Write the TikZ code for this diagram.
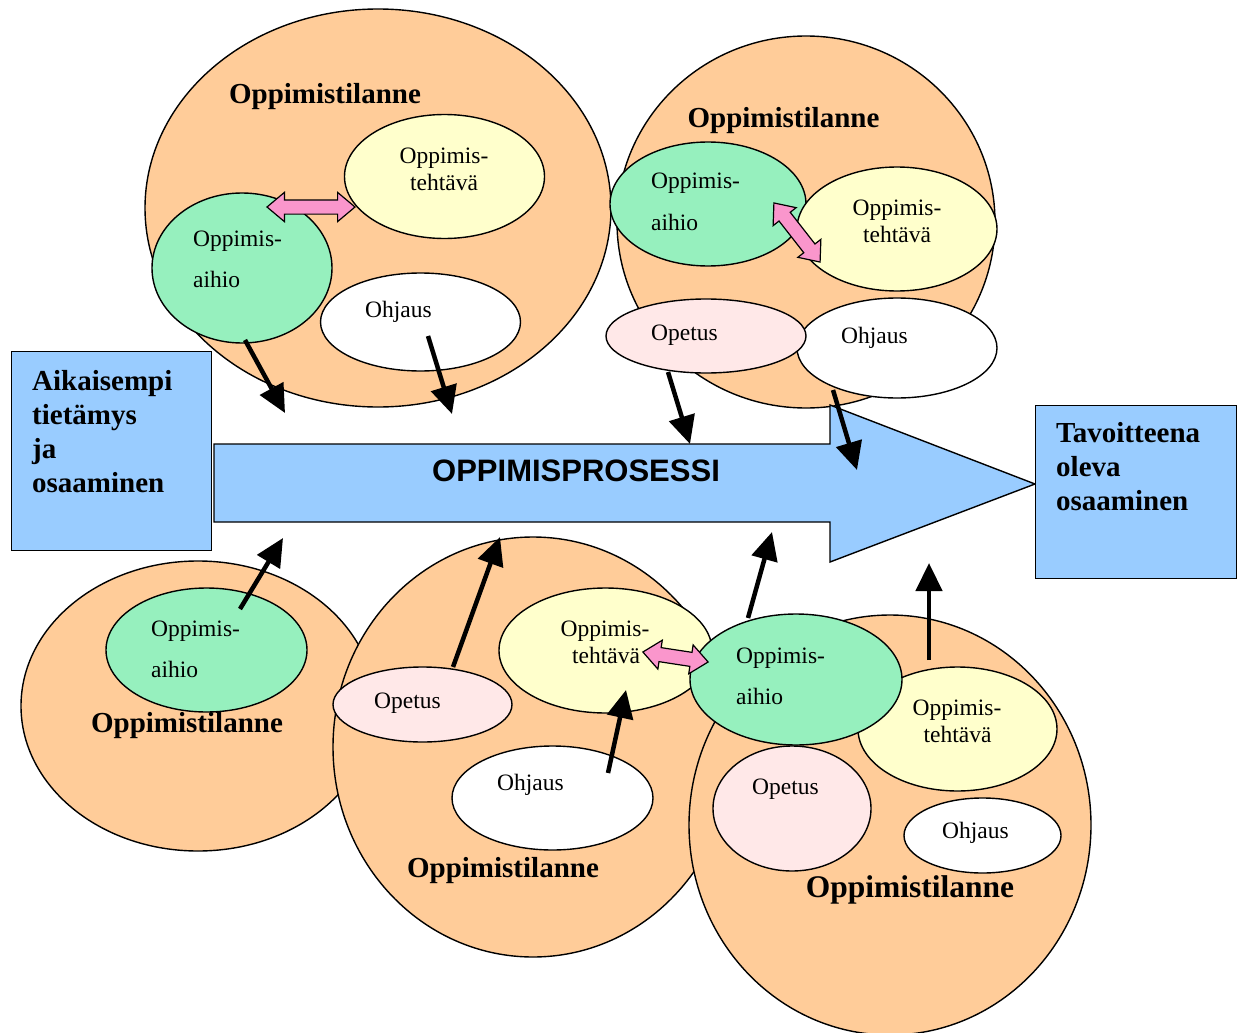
\documentclass[tikz,border=0pt]{standalone}
\usepackage{fontspec}
\setmainfont{Liberation Serif}
\newfontfamily\arialfont{Liberation Sans}
\usetikzlibrary{shapes.geometric,shapes.arrows,arrows.meta}
\definecolor{sitfill}{RGB}{255,204,153}
\definecolor{aihiofill}{RGB}{150,240,190}
\definecolor{tehtfill}{RGB}{255,255,204}
\definecolor{opetfill}{RGB}{255,232,232}
\definecolor{bluefill}{RGB}{153,204,255}
\definecolor{pinkarr}{RGB}{250,150,204}
\begin{document}
\begin{tikzpicture}[x=1pt,y=-1pt,
  ell/.style={ellipse, draw, line width=1.4pt, inner sep=0pt, outer sep=0pt},
  sit/.style={ell, fill=sitfill},
  aih/.style={ell, fill=aihiofill},
  teht/.style={ell, fill=tehtfill},
  opet/.style={ell, fill=opetfill},
  ohj/.style={ell, fill=white},
  dbl/.style={double arrow, draw, fill=pinkarr, line width=1.2pt, inner xsep=0pt, inner ysep=6.5pt, outer sep=0pt, double arrow head extend=7.5pt, double arrow tip angle=80},
  lbl/.style={font=\fontsize{23.5}{27}\selectfont, inner sep=0pt},
  ttl/.style={font=\bfseries\fontsize{29}{34}\selectfont, inner sep=0pt},
  bigttl/.style={font=\bfseries\fontsize{31.5}{36}\selectfont, inner sep=0pt},
  bluebox/.style={draw, line width=1.4pt, fill=bluefill, inner sep=0pt, anchor=north west},
  flow/.style={line width=4.5pt, -{Triangle[length=28pt,width=26pt]}}
]
\useasboundingbox (0,0) rectangle (1243,1033);
\fill[white] (0,0) rectangle (1243,1033);

% ---------- top-left situation ----------
\node[sit, minimum width=466pt, minimum height=398pt] (s1) at (378,208) {};
\node[teht, minimum width=200pt, minimum height=124pt] (t1) at (444.5,176.5) {};
\node[aih, minimum width=180pt, minimum height=150pt] (a1) at (242,268) {};
\node[ohj, minimum width=200pt, minimum height=98pt] (o1) at (420.5,322) {};
\node[dbl, minimum height=88pt, minimum width=28pt] (d1) at (311,207) {};
\node[ttl, anchor=base] (s1l) at (325,103) {Oppimistilanne};
\node[lbl, anchor=base] (t1l1) at (444,163) {Oppimis-};
\node[lbl, anchor=base] (t1l2) at (444,190) {tehtävä};
\node[lbl, anchor=base west] (a1l1) at (193,246) {Oppimis-};
\node[lbl, anchor=base west] (a1l2) at (193,287) {aihio};
\node[lbl, anchor=base west] (o1l) at (365,317) {Ohjaus};

% ---------- top-right situation ----------
\node[sit, minimum width=378pt, minimum height=372pt] (s2) at (806,222) {};
\node[aih, minimum width=196pt, minimum height=124pt] (a2) at (708,204) {};
\node[teht, minimum width=200pt, minimum height=124pt] (t2) at (897,229) {};
\node[ohj, minimum width=200pt, minimum height=100pt] (o2) at (897,348) {};
\node[opet, minimum width=200pt, minimum height=74pt] (p2) at (706,336) {};
\node[dbl, minimum height=75pt, minimum width=28pt, rotate=-52] (d2) at (797,232.5) {};
\node[ttl, anchor=base] (s2l) at (783.5,127) {Oppimistilanne};
\node[lbl, anchor=base west] (a2l1) at (651,188) {Oppimis-};
\node[lbl, anchor=base west] (a2l2) at (651,230) {aihio};
\node[lbl, anchor=base] (t2l1) at (897,215) {Oppimis-};
\node[lbl, anchor=base] (t2l2) at (897,242) {tehtävä};
\node[lbl, anchor=base west] (p2l) at (651,340) {Opetus};
\node[lbl, anchor=base west] (o2l) at (841,343) {Ohjaus};

% ---------- process arrow and boxes ----------
\draw[line width=1.4pt, fill=bluefill] (214,444) -- (830,444) -- (830,405) -- (1035,484)
  -- (830,562) -- (830,522) -- (214,522) -- cycle;
\node[inner sep=0pt, anchor=base, font=\arialfont\bfseries\fontsize{31}{36}\selectfont] (proc) at (576,481) {OPPIMISPROSESSI};

\node[bluebox, minimum width=200pt, minimum height=199pt] (prior) at (11,351) {};
\node[ttl, anchor=base west] (pr1) at (32,390) {Aikaisempi};
\node[ttl, anchor=base west] (pr2) at (32,424) {tietämys};
\node[ttl, anchor=base west] (pr3) at (32,458) {ja};
\node[ttl, anchor=base west] (pr4) at (32,492) {osaaminen};

\node[bluebox, minimum width=201pt, minimum height=173pt] (goal) at (1035,405) {};
\node[ttl, anchor=base west] (g1) at (1056,442) {Tavoitteena};
\node[ttl, anchor=base west] (g2) at (1056,476) {oleva};
\node[ttl, anchor=base west] (g3) at (1056,510) {osaaminen};

% ---------- bottom-left situation ----------
\node[sit, minimum width=354pt, minimum height=290pt] (s3) at (198,706) {};
\node[aih, minimum width=201pt, minimum height=124pt] (a3) at (206.5,650) {};
\node[lbl, anchor=base west] (a3l1) at (151,636) {Oppimis-};
\node[lbl, anchor=base west] (a3l2) at (151,677) {aihio};
\node[ttl, anchor=base] (s3l) at (187,732) {Oppimistilanne};

% ---------- bottom-middle situation ----------
\node[sit, minimum width=400pt, minimum height=420pt] (s4) at (533,747) {};
\node[opet, minimum width=179pt, minimum height=75pt] (p4) at (422.5,704.5) {};
\node[teht, minimum width=213pt, minimum height=125pt] (t4) at (605.5,650.5) {};
\node[ohj, minimum width=201pt, minimum height=104pt] (o4) at (552.5,798) {};
\node[lbl, anchor=base west] (p4l) at (374,708) {Opetus};
\node[lbl, anchor=base] (t4l1) at (605,636) {Oppimis-};
\node[lbl, anchor=base] (t4l2) at (606,663) {tehtävä};
\node[lbl, anchor=base west] (o4l) at (497,790) {Ohjaus};
\node[ttl, anchor=base] (s4l) at (503,877) {Oppimistilanne};

% ---------- bottom-right situation ----------
\node[sit, minimum width=402pt, minimum height=420pt] (s5) at (890,825) {};
\node[teht, minimum width=199pt, minimum height=124pt] (t5) at (957.5,729) {};
\node[aih, minimum width=212pt, minimum height=131pt] (a5) at (796,679.5) {};
\node[opet, minimum width=158pt, minimum height=125pt] (p5) at (792,808.5) {};
\node[ohj, minimum width=157pt, minimum height=75pt] (o5) at (982.5,835.5) {};
\node[dbl, minimum height=66pt, minimum width=28pt, rotate=-8.7] (d4) at (675.5,657) {};
\node[lbl, anchor=base west] (a5l1) at (736,663) {Oppimis-};
\node[lbl, anchor=base west] (a5l2) at (736,704) {aihio};
\node[lbl, anchor=base] (t5l1) at (957,715) {Oppimis-};
\node[lbl, anchor=base] (t5l2) at (957.5,742) {tehtävä};
\node[lbl, anchor=base west] (p5l) at (752,794) {Opetus};
\node[lbl, anchor=base west] (o5l) at (942,838) {Ohjaus};
\node[bigttl, anchor=base] (s5l) at (910,897) {Oppimistilanne};

% ---------- influence arrows ----------
\coordinate (f1a) at (245,340);  \coordinate (f1b) at (285,413);
\coordinate (f2a) at (428,336);  \coordinate (f2b) at (452,414);
\coordinate (f3a) at (668,372);  \coordinate (f3b) at (690,444);
\coordinate (f4a) at (833,390);  \coordinate (f4b) at (857,470);
\coordinate (f5a) at (240,609);  \coordinate (f5b) at (283,538);
\coordinate (f6a) at (453,667);  \coordinate (f6b) at (500,537);
\coordinate (f7a) at (608,773);  \coordinate (f7b) at (626,690);
\coordinate (f8a) at (748,618);  \coordinate (f8b) at (772,532);
\coordinate (f9a) at (929,660);  \coordinate (f9b) at (929,563);
\foreach \i in {1,...,9} {\draw[flow] (f\i a) -- (f\i b);}
\end{tikzpicture}
\end{document}
